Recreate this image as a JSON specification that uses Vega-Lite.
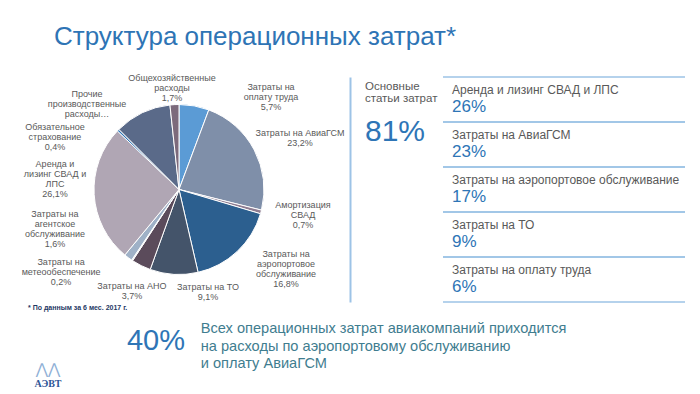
{
  "$schema": "https://vega.github.io/schema/vega-lite/v6.json",
  "background": "white",
  "padding": {"left": 8, "top": 23, "right": 10, "bottom": 0},
  "autosize": {"type": "pad"},
  "title": {"text": "Структура операционных затрат*", "anchor": "start", "frame": "group", "dx": 46, "offset": 3, "baseline": "alphabetic", "fontSize": 26, "font": "Liberation Sans", "fontWeight": "normal", "color": "#2e74b5"},
  "config": {
    "view": {"stroke": null},
    "font": "Liberation Sans",
    "text": {"font": "Liberation Sans", "fontSize": 9, "lineHeight": 10, "fill": "#595959", "lineBreak": "\n"}
  },
  "datasets": {
    "pie": [
      {"k": 1, "name": "Затраты на оплату труда", "value": 5.7, "label": "Затраты на\nоплату труда\n5,7%"},
      {"k": 2, "name": "Затраты на АвиаГСМ", "value": 23.2, "label": "Затраты на АвиаГСМ\n23,2%"},
      {"k": 3, "name": "Амортизация СВАД", "value": 0.7, "label": "Амортизация\nСВАД\n0,7%"},
      {"k": 4, "name": "Затраты на аэропортовое обслуживание", "value": 16.8, "label": "Затраты на\nаэропортовое\nобслуживание\n16,8%"},
      {"k": 5, "name": "Затраты на ТО", "value": 9.1, "label": "Затраты на ТО\n9,1%"},
      {"k": 6, "name": "Затраты на АНО", "value": 3.7, "label": "Затраты на АНО\n3,7%"},
      {"k": 7, "name": "Затраты на метеообеспечение", "value": 0.2, "label": "Затраты на\nметеообеспечение\n0,2%"},
      {"k": 8, "name": "Затраты на агентское обслуживание", "value": 1.6, "label": "Затраты на\nагентское\nобслуживание\n1,6%"},
      {"k": 9, "name": "Аренда и лизинг СВАД и ЛПС", "value": 26.1, "label": "Аренда и\nлизинг СВАД и\nЛПС\n26,1%"},
      {"k": 10, "name": "Обязательное страхование", "value": 0.4, "label": "Обязательное\nстрахование\n0,4%"},
      {"k": 11, "name": "Прочие производственные расходы", "value": 10.8, "label": "Прочие\nпроизводственные\nрасходы…"},
      {"k": 12, "name": "Общехозяйственные расходы", "value": 1.7, "label": "Общехозяйственные\nрасходы\n1,7%"}
    ]
  },
  "spacing": 0,
  "vconcat": [
    {
      "bounds": "flush",
      "spacing": 0,
      "hconcat": [
        {
          "width": 342,
          "height": 225,
          "data": {"name": "pie"},
          "transform": [{"stack": "value", "groupby": [], "sort": [{"field": "k", "order": "ascending"}], "as": ["a0", "a1"]}],
          "layer": [
            {
              "mark": {"type": "arc", "outerRadius": 85, "stroke": "white", "strokeWidth": 1},
              "encoding": {
                "theta": {"field": "a0", "type": "quantitative", "scale": {"domain": [0, 100]}},
                "theta2": {"field": "a1"},
                "color": {"field": "name", "type": "nominal", "legend": null,
                  "scale": {
                    "domain": ["Затраты на оплату труда", "Затраты на АвиаГСМ", "Амортизация СВАД", "Затраты на аэропортовое обслуживание", "Затраты на ТО", "Затраты на АНО", "Затраты на метеообеспечение", "Затраты на агентское обслуживание", "Аренда и лизинг СВАД и ЛПС", "Обязательное страхование", "Прочие производственные расходы", "Общехозяйственные расходы"],
                    "range": ["#5b9bd5", "#7f8fa9", "#8e7c91", "#2c5f8f", "#44546a", "#5b4b5b", "#c9d3e0", "#9fb1c7", "#b0a6b4", "#2e75b6", "#5a6a89", "#7c6a7c"]
                  }}
              }
            },
            {"transform": [{"filter": "datum.k == 1"}], "mark": {"type": "text", "radius": 120, "dx": 92, "dy": 17.5}, "encoding": {"theta": {"field": "a0", "type": "quantitative"}, "text": {"field": "label"}}},
            {"transform": [{"filter": "datum.k == 2"}], "mark": {"type": "text", "radius": 120, "dx": 78.9, "dy": 55.6}, "encoding": {"theta": {"field": "a0", "type": "quantitative"}, "text": {"field": "label"}}},
            {"transform": [{"filter": "datum.k == 3"}], "mark": {"type": "text", "radius": 120, "dx": 7.6, "dy": -13.6}, "encoding": {"theta": {"field": "a0", "type": "quantitative"}, "text": {"field": "label"}}},
            {"transform": [{"filter": "datum.k == 4"}], "mark": {"type": "text", "radius": 120, "dx": -8.0, "dy": 30.6}, "encoding": {"theta": {"field": "a0", "type": "quantitative"}, "text": {"field": "label"}}},
            {"transform": [{"filter": "datum.k == 5"}], "mark": {"type": "text", "radius": 120, "dx": 2.1, "dy": -19.4}, "encoding": {"theta": {"field": "a0", "type": "quantitative"}, "text": {"field": "label"}}},
            {"transform": [{"filter": "datum.k == 6"}], "mark": {"type": "text", "radius": 120, "dx": -6.4, "dy": -16.4}, "encoding": {"theta": {"field": "a0", "type": "quantitative"}, "text": {"field": "label"}}},
            {"transform": [{"filter": "datum.k == 7"}], "mark": {"type": "text", "radius": 120, "dx": -52.4, "dy": -28.0}, "encoding": {"theta": {"field": "a0", "type": "quantitative"}, "text": {"field": "label"}}},
            {"transform": [{"filter": "datum.k == 8"}], "mark": {"type": "text", "radius": 120, "dx": -57.2, "dy": -74.9}, "encoding": {"theta": {"field": "a0", "type": "quantitative"}, "text": {"field": "label"}}},
            {"transform": [{"filter": "datum.k == 9"}], "mark": {"type": "text", "radius": 120, "dx": -47.5, "dy": -117.7}, "encoding": {"theta": {"field": "a0", "type": "quantitative"}, "text": {"field": "label"}}},
            {"transform": [{"filter": "datum.k == 10"}], "mark": {"type": "text", "radius": 120, "dx": -37.1, "dy": 20.3}, "encoding": {"theta": {"field": "a0", "type": "quantitative"}, "text": {"field": "label"}}},
            {"transform": [{"filter": "datum.k == 11"}], "mark": {"type": "text", "radius": 120, "dx": -7.1, "dy": -10.3}, "encoding": {"theta": {"field": "a0", "type": "quantitative"}, "text": {"field": "label"}}},
            {"transform": [{"filter": "datum.k == 12"}], "mark": {"type": "text", "radius": 120, "dx": 5.8, "dy": 7.5}, "encoding": {"theta": {"field": "a0", "type": "quantitative"}, "text": {"field": "label"}}}
          ]
        },
        {
          "width": 93,
          "height": 225,
          "data": {"values": [{"k": "a", "head": "Основные\nстатьи затрат", "big": "81%"}]},
          "encoding": {"y": {"field": "k", "type": "nominal", "axis": {"title": null, "labels": false, "ticks": false, "domain": true, "domainColor": "#9dc3e6", "domainWidth": 2, "grid": false}}},
          "layer": [
            {"mark": {"type": "text", "align": "left", "dx": -31.5, "dy": -102.5, "fontSize": 11.5, "lineHeight": 11.5, "fill": "#595959"}, "encoding": {"text": {"field": "head"}}},
            {"mark": {"type": "text", "align": "left", "dx": -31.5, "dy": -57.5, "fontSize": 30, "fill": "#2e75b6"}, "encoding": {"text": {"field": "big"}}}
          ]
        },
        {
          "width": 242,
          "height": 225,
          "data": {"values": [
            {"item": "Аренда и лизинг СВАД и ЛПС", "pct": "26%"},
            {"item": "Затраты на АвиаГСМ", "pct": "23%"},
            {"item": "Затраты на аэропортовое обслуживание", "pct": "17%"},
            {"item": "Затраты на ТО", "pct": "9%"},
            {"item": "Затраты на оплату труда", "pct": "6%"}
          ]},
          "encoding": {"y": {"field": "item", "type": "nominal", "sort": null, "scale": {"type": "band", "paddingInner": 0, "paddingOuter": 0}, "axis": null}},
          "layer": [
            {"mark": {"type": "rule", "stroke": "#9dc3e6", "strokeWidth": 1.5}, "encoding": {"y": {"field": "item", "type": "nominal", "sort": null, "bandPosition": 0, "axis": null}}},
            {"mark": {"type": "rule", "stroke": "#9dc3e6", "strokeWidth": 1.5}, "encoding": {"y": {"field": "item", "type": "nominal", "sort": null, "bandPosition": 1, "axis": null}}},
            {"mark": {"type": "text", "align": "left", "dx": -112, "dy": -9.5, "fontSize": 12, "fill": "#595959"}, "encoding": {"text": {"field": "item"}}},
            {"mark": {"type": "text", "align": "left", "dx": -112, "dy": 7.5, "fontSize": 17, "fill": "#2e75b6"}, "encoding": {"text": {"field": "pct"}}}
          ]
        }
      ]
    },
    {
      "width": 677,
      "height": 80,
      "layer": [
        {"data": {"values": [{"t": "* По данным за 6 мес. 2017 г."}]}, "mark": {"type": "text", "align": "left", "dx": -318.5, "dy": -36.5, "fontSize": 7, "fontWeight": "bold", "fill": "#1f3864"}, "encoding": {"text": {"field": "t"}}},
        {"data": {"values": [{"t": "40%"}]}, "mark": {"type": "text", "align": "center", "dx": -190.5, "dy": -2.7, "fontSize": 29, "fill": "#2e75b6"}, "encoding": {"text": {"field": "t"}}},
        {"data": {"values": [{"t": "Всех операционных затрат авиакомпаний приходится\nна расходы по аэропортовому обслуживанию\nи оплату АвиаГСМ"}]}, "mark": {"type": "text", "align": "left", "dx": -145.8, "dy": -15, "fontSize": 14.6, "lineHeight": 17.5, "fill": "#3f7d8f"}, "encoding": {"text": {"field": "t"}}},
        {"data": {"values": [{"t": "⋀⋀"}]}, "mark": {"type": "text", "align": "center", "dx": -298.5, "dy": 25, "fontSize": 15, "font": "DejaVu Sans", "fill": "#8fb0d6"}, "encoding": {"text": {"field": "t"}}},
        {"data": {"values": [{"t": "АЭВТ"}]}, "mark": {"type": "text", "align": "center", "dx": -298.5, "dy": 40, "fontSize": 10, "fontWeight": "bold", "font": "Liberation Serif", "fill": "#2f5597"}, "encoding": {"text": {"field": "t"}}}
      ]
    }
  ]
}
